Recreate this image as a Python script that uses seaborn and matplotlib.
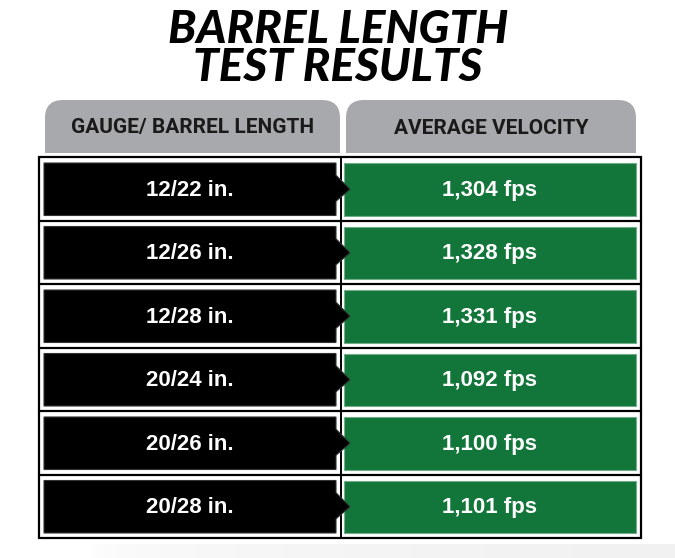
import matplotlib
matplotlib.use("Agg")
import matplotlib.pyplot as plt
import matplotlib.font_manager as fm
from matplotlib.patches import Rectangle, Polygon, FancyBboxPatch
from matplotlib.colors import LinearSegmentedColormap
import numpy as np
import seaborn as sns

# table content
gauges = ["12/22 in.", "12/26 in.", "12/28 in.", "20/24 in.", "20/26 in.", "20/28 in."]
velocity_fps = [1304, 1328, 1331, 1092, 1100, 1101]
headers = ["GAUGE/ BARREL LENGTH", "AVERAGE VELOCITY"]
title_lines = ["BARREL LENGTH", "TEST RESULTS"]

GREEN = "#12763a"
GREY = "#a7a9ac"

sns.set_style("white")
names = {f.name for f in fm.fontManager.ttflist}
title_font = "Lato" if "Lato" in names else "Roboto"

fig = plt.figure(figsize=(6.75, 5.58), dpi=100)
ax = fig.add_axes([0, 0, 1, 1])
ax.set_xlim(0, 675)
ax.set_ylim(558, 0)
ax.axis("off")

# faint shadow under the table
shade = LinearSegmentedColormap.from_list("shade", ["white", "#f1f1f1"])
grad = np.linspace(0, 1, 256)[None, :] ** 0.4
ax.imshow(grad, extent=(90, 675, 558, 544), cmap=shade,
          vmin=0, vmax=1, aspect="auto", zorder=0)

# title, one text block with two lines
ax.text(338, 49, "\n".join(title_lines), ha="center", va="center", fontsize=33,
        linespacing=0.88, family=title_font, weight="black", style="italic",
        color="black")

# header tabs (rounded top)
tab_x = [(45, 340), (346, 636)]
for (x0, x1), h in zip(tab_x, headers):
    ax.add_patch(FancyBboxPatch((x0, 100), x1 - x0, 53,
                                boxstyle="round,pad=0,rounding_size=18",
                                fc=GREY, ec="none"))
    ax.add_patch(Rectangle((x0, 125), x1 - x0, 28, fc=GREY, ec="none"))
    ax.text((x0 + x1) / 2, 128, h, ha="center", va="center", fontsize=15,
            family="Roboto", weight="bold", color="#1a1a1a")

# table grid
top, bottom, left, mid, right = 157, 538, 39, 341, 641
row_h = (bottom - top) / len(gauges)
ax.add_patch(Rectangle((left, top), right - left, bottom - top, fc="white", ec="black", lw=1.6, zorder=1))
ax.plot([mid, mid], [top, bottom], color="black", lw=1.4, zorder=2)
for i in range(1, len(gauges)):
    y = top + i * row_h
    ax.plot([left, right], [y, y], color="black", lw=1.6, zorder=2)

for i, (g, v) in enumerate(zip(gauges, velocity_fps)):
    y0 = top + i * row_h + 6
    y1 = top + (i + 1) * row_h - 5
    yc = (y0 + y1) / 2
    # green value cell
    ax.add_patch(Rectangle((344, y0), 292, y1 - y0, fc=GREEN, ec="#6fae88", lw=0.8, zorder=3))
    # black arrow cell
    pts = [(44, y0), (336, y0), (336, yc - 14), (350, yc), (336, yc + 12),
           (336, y1), (44, y1)]
    ax.add_patch(Polygon(pts, closed=True, fc="black", ec="#333333", lw=0.8, zorder=4))
    ax.text(190, yc + 1, g, ha="center", va="center", fontsize=16, zorder=5,
            family="Liberation Sans", weight="bold", color="white")
    ax.text(490, yc + 1, f"{v:,} fps", ha="center", va="center", fontsize=16, zorder=5,
            family="Liberation Sans", weight="bold", color="white")

fig.savefig("out.png", dpi=100)
